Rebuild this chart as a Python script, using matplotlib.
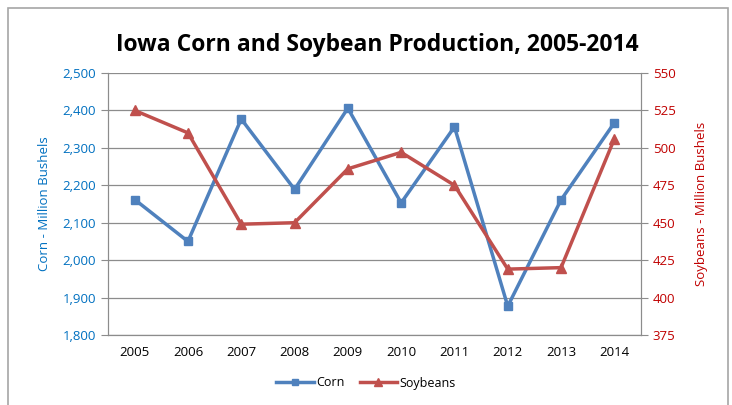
import matplotlib.pyplot as plt
from matplotlib.patches import Rectangle

years = ['2005', '2006', '2007', '2008', '2009', '2010', '2011', '2012', '2013', '2014']
corn = [2162, 2050, 2377, 2189, 2406, 2153, 2356, 1877, 2161, 2367]
soybeans = [525, 510, 449, 450, 486, 497, 475, 419, 420, 506]

plt.rcParams['font.family'] = ['Open Sans', 'DejaVu Sans']

fig = plt.figure(figsize=(7.32, 4.05), dpi=100)
fig.patches.append(Rectangle((8 / 732, -0.1), 720 / 732, 1.1 - 8 / 405,
                             transform=fig.transFigure, fill=False,
                             edgecolor='#a6a6a6', linewidth=1.2))

ax = fig.add_axes([108 / 732, 1 - 335 / 405, 533 / 732, 262 / 405])
ax2 = ax.twinx()
x = range(len(years))

l1, = ax.plot(x, corn, color='#4F81BD', linewidth=2.5, marker='s',
              markersize=6, label='Corn', zorder=3)
l2, = ax2.plot(x, soybeans, color='#C0504D', linewidth=2.5, marker='^',
               markersize=7, label='Soybeans', zorder=3)

ax.set_xlim(-0.5, len(years) - 0.5)
ax.set_ylim(1800, 2500)
ax.set_yticks(range(1800, 2501, 100))
ax.set_yticklabels([f'{v:,}' for v in range(1800, 2501, 100)])
ax2.set_ylim(375, 550)
ax2.set_yticks(range(375, 551, 25))
ax.set_xticks(list(x))
ax.set_xticklabels(years)

ax.grid(axis='y', color='#8c8c8c', linewidth=0.9)
ax.set_axisbelow(True)
for a in (ax, ax2):
    a.spines['top'].set_visible(False)
    a.spines['left'].set_color('#8c8c8c')
    a.spines['right'].set_color('#8c8c8c')
    a.spines['bottom'].set_color('#8c8c8c')

ax.tick_params(axis='y', colors='#8c8c8c', labelcolor='#0070C0', labelsize=9.5,
               direction='out', length=5)
ax.tick_params(axis='x', length=0, labelsize=9.5, pad=8)
ax2.tick_params(axis='y', colors='#8c8c8c', labelcolor='#C00000', labelsize=9.5,
                direction='out', length=5)

ax.set_ylabel('Corn - Million Bushels', color='#0070C0', fontsize=9.5, labelpad=8)
ax2.set_ylabel('Soybeans - Million Bushels', color='#C00000', fontsize=9.5, labelpad=14)

fig.text(0.515, 1 - 45 / 405, 'Iowa Corn and Soybean Production, 2005-2014',
         ha='center', va='center', fontsize=16.5, fontweight='bold')

fig.legend(handles=[l1, l2], loc='center', bbox_to_anchor=(0.5, 1 - 383 / 405),
           ncol=2, frameon=False, fontsize=9, handlelength=3, columnspacing=1.2,
           handletextpad=0.2, markerscale=0.8)

fig.savefig('out.png', dpi=100)
